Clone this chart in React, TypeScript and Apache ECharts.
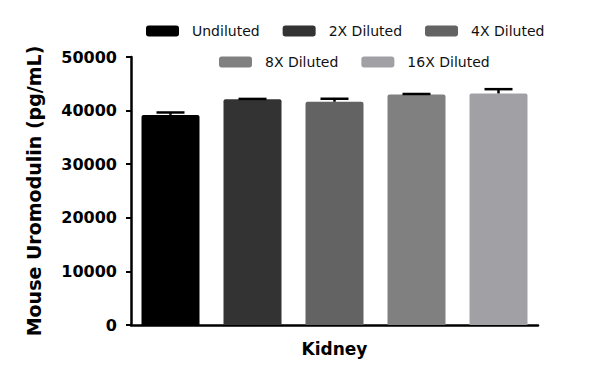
import React, { useEffect, useRef } from "react";
import * as echarts from "echarts";

const categories = ["Kidney"];
const seriesNames = ["Undiluted", "2X Diluted", "4X Diluted", "8X Diluted", "16X Diluted"];
const seriesMeans = [39200, 42100, 41650, 43000, 43200];
const seriesErrors = [450, 80, 560, 100, 800];
const seriesColors = ["#000000", "#333333", "#636363", "#808080", "#a1a1a5"];
const yTicks = [0, 10000, 20000, 30000, 40000, 50000];

const BAR_W = 58;
const GAP_PX = 24;
const FONT = "'DejaVu Sans', sans-serif";

export default function App() {
  const ref = useRef<HTMLDivElement>(null);
  useEffect(() => {
    if (!ref.current) return;
    const chart = echarts.init(ref.current, null, { renderer: "svg" });
    const n = seriesNames.length;
    const barSeries = seriesNames.map((name, i) => ({
      name,
      type: "bar",
      barWidth: BAR_W,
      barGap: (GAP_PX / BAR_W) * 100 + "%",
      itemStyle: { color: seriesColors[i], borderRadius: [2, 2, 0, 0] },
      data: [seriesMeans[i]],
    }));
    const errData = seriesNames.map((_, i) => [0, seriesMeans[i], seriesErrors[i], i]);
    const errSeries = {
      type: "custom",
      name: "err",
      z: 5,
      encode: { x: 0, y: 1 },
      data: errData,
      renderItem: (params: any, api: any) => {
        const v = api.value(1);
        const e = api.value(2);
        const idx = api.value(3);
        const base = api.coord([api.value(0), v]);
        const top = api.coord([api.value(0), v + e]);
        const x = base[0] + (idx - (n - 1) / 2) * (BAR_W + GAP_PX);
        const style = { stroke: "#000", lineWidth: 2.5 };
        return {
          type: "group",
          children: [
            { type: "line", shape: { x1: x, y1: base[1], x2: x, y2: top[1] }, style },
            { type: "line", shape: { x1: x - 14, y1: top[1], x2: x + 14, y2: top[1] }, style },
          ],
        };
      },
    };
    const legendCommon = {
      icon: "roundRect",
      itemWidth: 33,
      itemHeight: 11,
      itemGap: 23,
      textStyle: { fontFamily: FONT, fontSize: 14, color: "#111", padding: [0, 0, 0, 8] },
    };
    chart.setOption({
      animation: false,
      backgroundColor: "#fff",
      legend: [
        { ...legendCommon, data: seriesNames.slice(0, 3), left: 141, top: 19 },
        { ...legendCommon, data: seriesNames.slice(3), left: 214, top: 50 },
      ],
      grid: { left: 131, right: 62, top: 57, bottom: 60 },
      xAxis: {
        type: "category",
        data: categories,
        axisLine: { lineStyle: { color: "#000", width: 2.5 } },
        axisTick: { alignWithLabel: true, length: 6, lineStyle: { color: "#000", width: 2 } },
        axisLabel: { color: "#000", fontFamily: FONT, fontWeight: "bold", fontSize: 17, margin: 15 },
      },
      yAxis: {
        type: "value",
        min: yTicks[0],
        max: yTicks[yTicks.length - 1],
        interval: yTicks[1] - yTicks[0],
        name: "Mouse Uromodulin (pg/mL)",
        nameLocation: "middle",
        nameGap: 88,
        nameTextStyle: { color: "#000", fontFamily: FONT, fontWeight: "bold", fontSize: 19 },
        splitLine: { show: false },
        axisLine: { show: true, lineStyle: { color: "#000", width: 2.5 } },
        axisTick: { show: true, length: 5, lineStyle: { color: "#000", width: 2 } },
        axisLabel: {
          color: "#000",
          fontFamily: FONT,
          fontWeight: "bold",
          fontSize: 16,
          margin: 14,
          formatter: (v: number) => String(v),
        },
      },
      series: [...barSeries, errSeries],
    });
    return () => chart.dispose();
  }, []);
  return (
    <div
      ref={ref}
      style={{ position: "fixed", left: 0, top: 0, width: 600, height: 385, background: "#fff" }}
    />
  );
}
